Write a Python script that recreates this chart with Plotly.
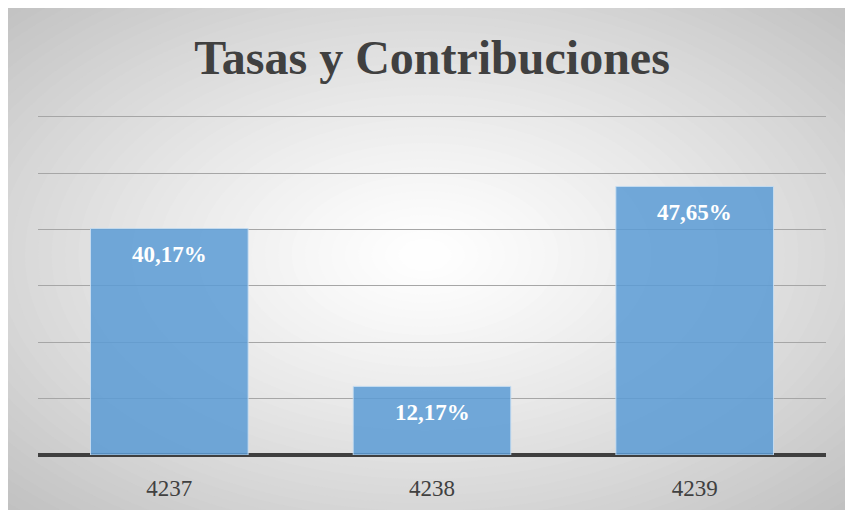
import plotly.graph_objects as go

categories = ["4237", "4238", "4239"]
values = [40.17, 12.17, 47.65]
title_text = "Tasas y Contribuciones"

W, H = 845, 510
YMAX = 60.5
ML, MR, MB = 38, 19, 55
PPU = 338 / 60.0  # pixels per unit
MT = int(round(H - MB - PPU * YMAX))
PW, PH = W - ML - MR, H - MT - MB

def px_x(p):
    return (p - ML) / PW

def px_y(p):
    return (H - MB - p) / PH

labels = [f"{v:.2f}%".replace(".", ",") for v in values]

fig = go.Figure()
fig.add_trace(go.Bar(
    x=categories, y=values,
    marker=dict(color="rgba(91,155,213,0.85)", line=dict(color="rgba(200,222,242,0.9)", width=1)),
    hoverinfo="skip",
))

shapes = []
# chart box base
shapes.append(dict(type="rect", xref="paper", yref="paper", layer="below",
                   x0=px_x(8), x1=px_x(W), y0=px_y(H), y1=px_y(8),
                   fillcolor="#c3c3c3", line=dict(width=0)))
# radial gradient via concentric ellipses
cx, cy = 425, 255
rx, ry = 600, 360
N = 45
for i in range(N):
    t = 1 - i / N
    g = int(round(255 - (255 - 193) * (t ** 1.25)))
    col = f"rgb({g},{g},{g})"
    shapes.append(dict(type="circle", xref="paper", yref="paper", layer="below",
                       x0=px_x(cx - rx * t), x1=px_x(cx + rx * t),
                       y0=px_y(cy + ry * t), y1=px_y(cy - ry * t),
                       fillcolor=col, line=dict(width=0)))
# white margins left/top
shapes.append(dict(type="rect", xref="paper", yref="paper", layer="below",
                   x0=px_x(-5), x1=px_x(8), y0=px_y(H + 5), y1=px_y(-5),
                   fillcolor="white", line=dict(width=0)))
shapes.append(dict(type="rect", xref="paper", yref="paper", layer="below",
                   x0=px_x(-5), x1=px_x(W + 5), y0=px_y(8), y1=px_y(-5),
                   fillcolor="white", line=dict(width=0)))

annotations = []
for i, (v, lab) in enumerate(zip(values, labels)):
    annotations.append(dict(x=i, y=v, xref="x", yref="y", text=f"<b>{lab}</b>",
                            showarrow=False, yanchor="middle", yshift=-26,
                            font=dict(family="Liberation Serif", size=23, color="white")))

fig.update_layout(
    width=W, height=H,
    margin=dict(l=ML, r=MR, t=MT, b=MB),
    paper_bgcolor="white",
    plot_bgcolor="rgba(0,0,0,0)",
    showlegend=False,
    bargap=0.4,
    shapes=shapes,
    annotations=annotations,
    title=dict(text=f"<b>{title_text}</b>", x=432 / W, xanchor="center", y=1 - 57 / H, yanchor="middle",
               font=dict(family="Liberation Serif", size=48, color="#404040")),
    xaxis=dict(type="category", range=[-0.5, 2.5], showgrid=False, ticks="", ticklabelstandoff=17,
               tickfont=dict(family="Liberation Serif", size=23, color="#404040"),
               showline=False, automargin=False),
    yaxis=dict(range=[0, YMAX], dtick=10, showticklabels=False, showgrid=True,
               gridcolor="#a6a6a6", gridwidth=1, automargin=False,
               zeroline=True, zerolinecolor="#3f3f3f", zerolinewidth=4, showline=False),
)

fig.write_html("out.html", config={"displayModeBar": False},
               post_script="document.body.style.margin='0px';document.body.style.overflow='hidden';")
